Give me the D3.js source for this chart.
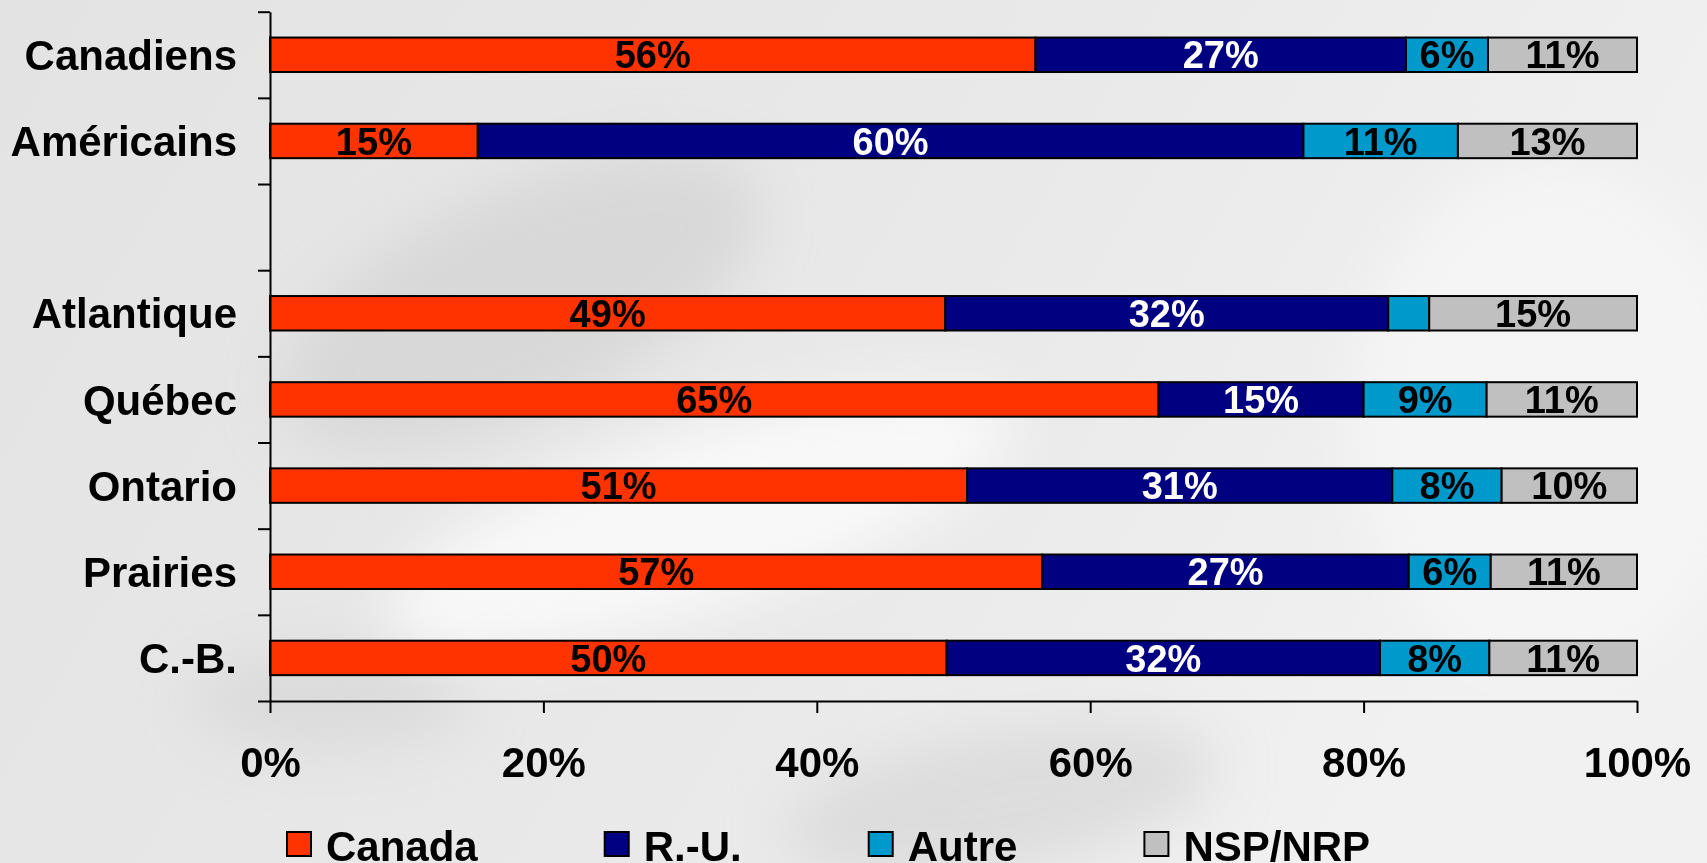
<!DOCTYPE html>
<html>
<head>
<meta charset="utf-8">
<script src="https://cdn.jsdelivr.net/npm/d3@7"></script>
<style>
  html, body { margin: 0; padding: 0; overflow: hidden; }
  body { width: 1707px; height: 863px; }
  svg text { font-family: "Liberation Sans", Arial, sans-serif; font-weight: bold; }
</style>
</head>
<body>
<div id="chart"></div>
<script>
// categories (the empty one is the gap between the two groups)
const categories = ["Canadiens", "Américains", "", "Atlantique", "Québec", "Ontario", "Prairies", "C.-B."];
const seriesNames = ["Canada", "R.-U.", "Autre", "NSP/NRP"];
const canada = [56.0, 15.2, null, 49.4, 65.0, 51.0, 56.5, 49.5];
const ru     = [27.1, 60.4, null, 32.4, 15.0, 31.1, 26.8, 31.7];
const autre  = [6.0, 11.3, null, 3.0, 9.0, 8.0, 6.0, 8.0];
const nsp    = [10.9, 13.1, null, 15.2, 11.0, 9.9, 10.7, 10.8];
const xTicks = [0, 20, 40, 60, 80, 100];

const colors = ["#ff3300", "#000080", "#0099cc", "#c0c0c0"];
const labelColors = ["#000", "#fff", "#000", "#000"];

const width = 1707, height = 863;
const margin = { top: 11.7, right: 70, bottom: 162, left: 270 };

const rows = categories.map((c, i) => ({
  cat: c,
  "Canada": canada[i],
  "R.-U.": ru[i],
  "Autre": autre[i],
  "NSP/NRP": nsp[i]
}));

const svg = d3.select("#chart").append("svg")
  .attr("width", width)
  .attr("height", height);

// fond gris avec quelques volutes floues
const defs = svg.append("defs");
const bgGrad = defs.append("linearGradient").attr("id", "bg").attr("x1", 0).attr("x2", 1).attr("y1", 0).attr("y2", 0.3);
bgGrad.append("stop").attr("offset", "0%").attr("stop-color", "#e3e3e3");
bgGrad.append("stop").attr("offset", "60%").attr("stop-color", "#e9e9e9");
bgGrad.append("stop").attr("offset", "100%").attr("stop-color", "#f1f1f1");
defs.append("filter").attr("id", "blur").attr("x", "-50%").attr("y", "-50%").attr("width", "200%").attr("height", "200%")
  .append("feGaussianBlur").attr("stdDeviation", 28);

svg.append("rect").attr("width", width).attr("height", height).attr("fill", "url(#bg)");

const swirl = svg.append("g").attr("filter", "url(#blur)");
swirl.append("ellipse").attr("cx", 520).attr("cy", 300).attr("rx", 260).attr("ry", 110)
  .attr("transform", "rotate(-25 520 300)").attr("fill", "#d2d2d2").attr("opacity", 0.7);
swirl.append("ellipse").attr("cx", 700).attr("cy", 520).attr("rx", 330).attr("ry", 90)
  .attr("transform", "rotate(-18 700 520)").attr("fill", "#fafafa").attr("opacity", 0.9);
swirl.append("ellipse").attr("cx", 1000).attr("cy", 800).attr("rx", 220).attr("ry", 70)
  .attr("transform", "rotate(-10 1000 800)").attr("fill", "#d6d6d6").attr("opacity", 0.7);
swirl.append("ellipse").attr("cx", 1550).attr("cy", 420).attr("rx", 200).attr("ry", 260)
  .attr("fill", "#f6f6f6").attr("opacity", 0.8);
swirl.append("ellipse").attr("cx", 330).attr("cy", 700).attr("rx", 140).attr("ry", 50)
  .attr("fill", "#d4d4d4").attr("opacity", 0.6);

const x = d3.scaleLinear()
  .domain([0, 100])
  .range([margin.left, width - margin.right]);

const y = d3.scaleBand()
  .domain(categories)
  .range([margin.top, height - margin.bottom])
  .paddingInner(0.6)
  .paddingOuter(0.3);

// index scale for the boundary ticks of the category axis
const yIdx = d3.scaleLinear()
  .domain([0, categories.length])
  .range([margin.top, height - margin.bottom]);

const stack = d3.stack().keys(seriesNames).value((d, k) => d[k] || 0);
const series = stack(rows);

const g = svg.append("g");

series.forEach((s, si) => {
  const layer = g.append("g").attr("class", "serie");
  const segs = s.filter(d => d.data[s.key] != null);
  layer.selectAll("rect")
    .data(segs)
    .join("rect")
    .attr("x", d => x(d[0]))
    .attr("y", d => y(d.data.cat))
    .attr("width", d => x(d[1]) - x(d[0]))
    .attr("height", y.bandwidth())
    .attr("fill", colors[si])
    .attr("stroke", "#000")
    .attr("stroke-width", 2);
});

// data labels
series.forEach((s, si) => {
  const segs = s.filter(d => d.data[s.key] != null && d.data[s.key] >= 4);
  g.append("g").selectAll("text")
    .data(segs)
    .join("text")
    .attr("x", d => (x(d[0]) + x(d[1])) / 2)
    .attr("y", d => y(d.data.cat) + y.bandwidth() / 2)
    .attr("dy", "0.36em")
    .attr("text-anchor", "middle")
    .attr("font-size", 38)
    .attr("fill", labelColors[si])
    .text(d => Math.round(d.data[s.key]) + "%");
});

// axe des catégories
const yAxis = svg.append("g")
  .attr("transform", `translate(${margin.left},0)`)
  .call(d3.axisLeft(yIdx).tickValues(d3.range(categories.length + 1)).tickFormat("").tickSize(12).tickSizeOuter(0));
yAxis.select(".domain").attr("stroke", "#000").attr("stroke-width", 2);
yAxis.selectAll(".tick line").attr("stroke", "#000").attr("stroke-width", 2);

const yLabels = svg.append("g")
  .attr("transform", `translate(${margin.left - 33},0)`)
  .call(d3.axisLeft(y).tickSize(0).tickPadding(0));
yLabels.select(".domain").remove();
yLabels.selectAll("text")
  .attr("font-size", 42)
  .attr("fill", "#000")
  .attr("dy", "0.36em");

// axe des pourcentages
const xAxis = svg.append("g")
  .attr("transform", `translate(0,${height - margin.bottom})`)
  .call(d3.axisBottom(x).tickValues(xTicks).tickFormat(d => d + "%").tickSize(12).tickSizeOuter(0).tickPadding(34));
xAxis.select(".domain").attr("stroke", "#000").attr("stroke-width", 2);
xAxis.selectAll(".tick line").attr("stroke", "#000").attr("stroke-width", 2);
xAxis.selectAll("text").attr("font-size", 42).attr("fill", "#000");

// légende
const legend = svg.append("g").attr("transform", "translate(287,832)");
let lx = 0;
seriesNames.forEach((name, i) => {
  const item = legend.append("g").attr("transform", `translate(${lx},0)`);
  item.append("rect")
    .attr("width", 24).attr("height", 24)
    .attr("fill", colors[i])
    .attr("stroke", "#000")
    .attr("stroke-width", 2);
  const t = item.append("text")
    .attr("x", 39)
    .attr("y", 29)
    .attr("font-size", 42)
    .attr("fill", "#000")
    .text(name);
  lx += 39 + t.node().getComputedTextLength() + 127;
});
</script>
</body>
</html>
